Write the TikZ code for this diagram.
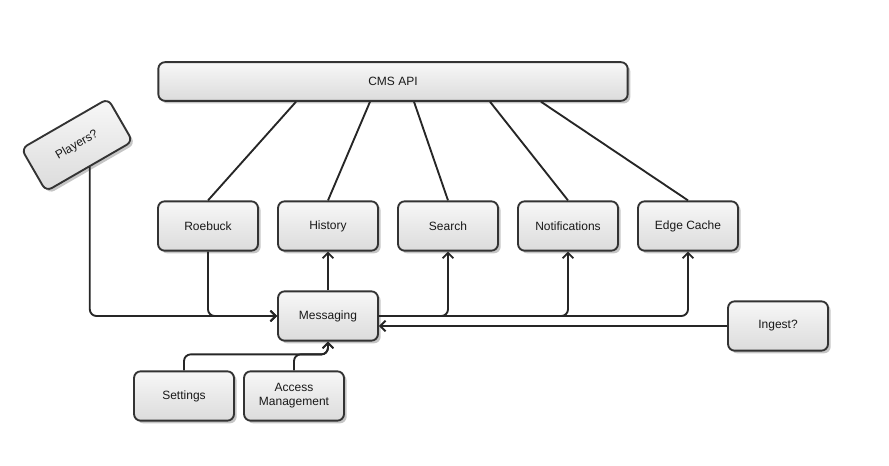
\documentclass[tikz,border=0pt]{standalone}
\usepackage{fontspec}
\setmainfont{Liberation Sans}
\usetikzlibrary{positioning,shadows,arrows.meta}

\tikzset{
  box/.style={draw=black!80, line width=1.4pt, rounded corners=5pt,
    top color=gray!6, bottom color=gray!28, text=black!90,
    minimum width=75pt, minimum height=37pt, align=center,
    font=\fontsize{9}{10.5}\selectfont,
    drop shadow={shadow xshift=2pt, shadow yshift=-2pt, fill=black!45, opacity=0.5}},
  link/.style={draw=black!85, line width=1.4pt, rounded corners=5pt},
  flow/.style={link, -{Straight Barb[length=4pt,width=8pt]}}
}

\begin{document}
\begin{tikzpicture}[x=0.75pt, y=-0.75pt, node distance=90pt]
                \useasboundingbox (0,0) rectangle (889,466);

                \node[box, minimum width=352pt, minimum height=29pt] (cms) at (393,81.5) {CMS API};
                \node[box] (roebuck) at (208,226) {Roebuck};
                \node[box, right of=roebuck] (history) {History};
                \node[box, right of=history] (search) {Search};
                \node[box, right of=search] (notify) {Notifications};
                \node[box, right of=notify] (edge) {Edge Cache};
                \node[box] (msg) at (328,316) {Messaging};
                \node[box] (ingest) at (778,326) {Ingest?};
                \node[box] (settings) at (184,396) {Settings};
                \node[box, node distance=82.5pt, right of=settings] (access) {Access\\Management};
                \node[box, rotate=30] (players) at (77,145) {Players?};

                \draw[link] ([xshift=-72.75pt]cms.south) -- (roebuck.north);
                \draw[link] ([xshift=-17.25pt]cms.south) -- (history.north);
                \draw[link] ([xshift=15.75pt]cms.south) -- (search.north);
                \draw[link] ([xshift=72.75pt]cms.south) -- (notify.north);
                \draw[link] ([xshift=111pt]cms.south) -- (edge.north);

                \draw[flow] (players.south) |- (msg.west);
                \draw[flow] (roebuck.south) |- (msg.west);
                \draw[flow] (msg.north) -- (history.south);
                \draw[flow] (msg.east) -| (search.south);
                \draw[flow] (msg.east) -| (notify.south);
                \draw[flow] (msg.east) -| (edge.south);
                \draw[flow] (ingest.west) -- (msg.east |- ingest.west);
                \draw[flow] (settings.north) -- ++(0,-16) -| (msg.south);
                \draw[flow] (access.north) -- ++(0,-16) -| (msg.south);
            \end{tikzpicture}
\end{document}
